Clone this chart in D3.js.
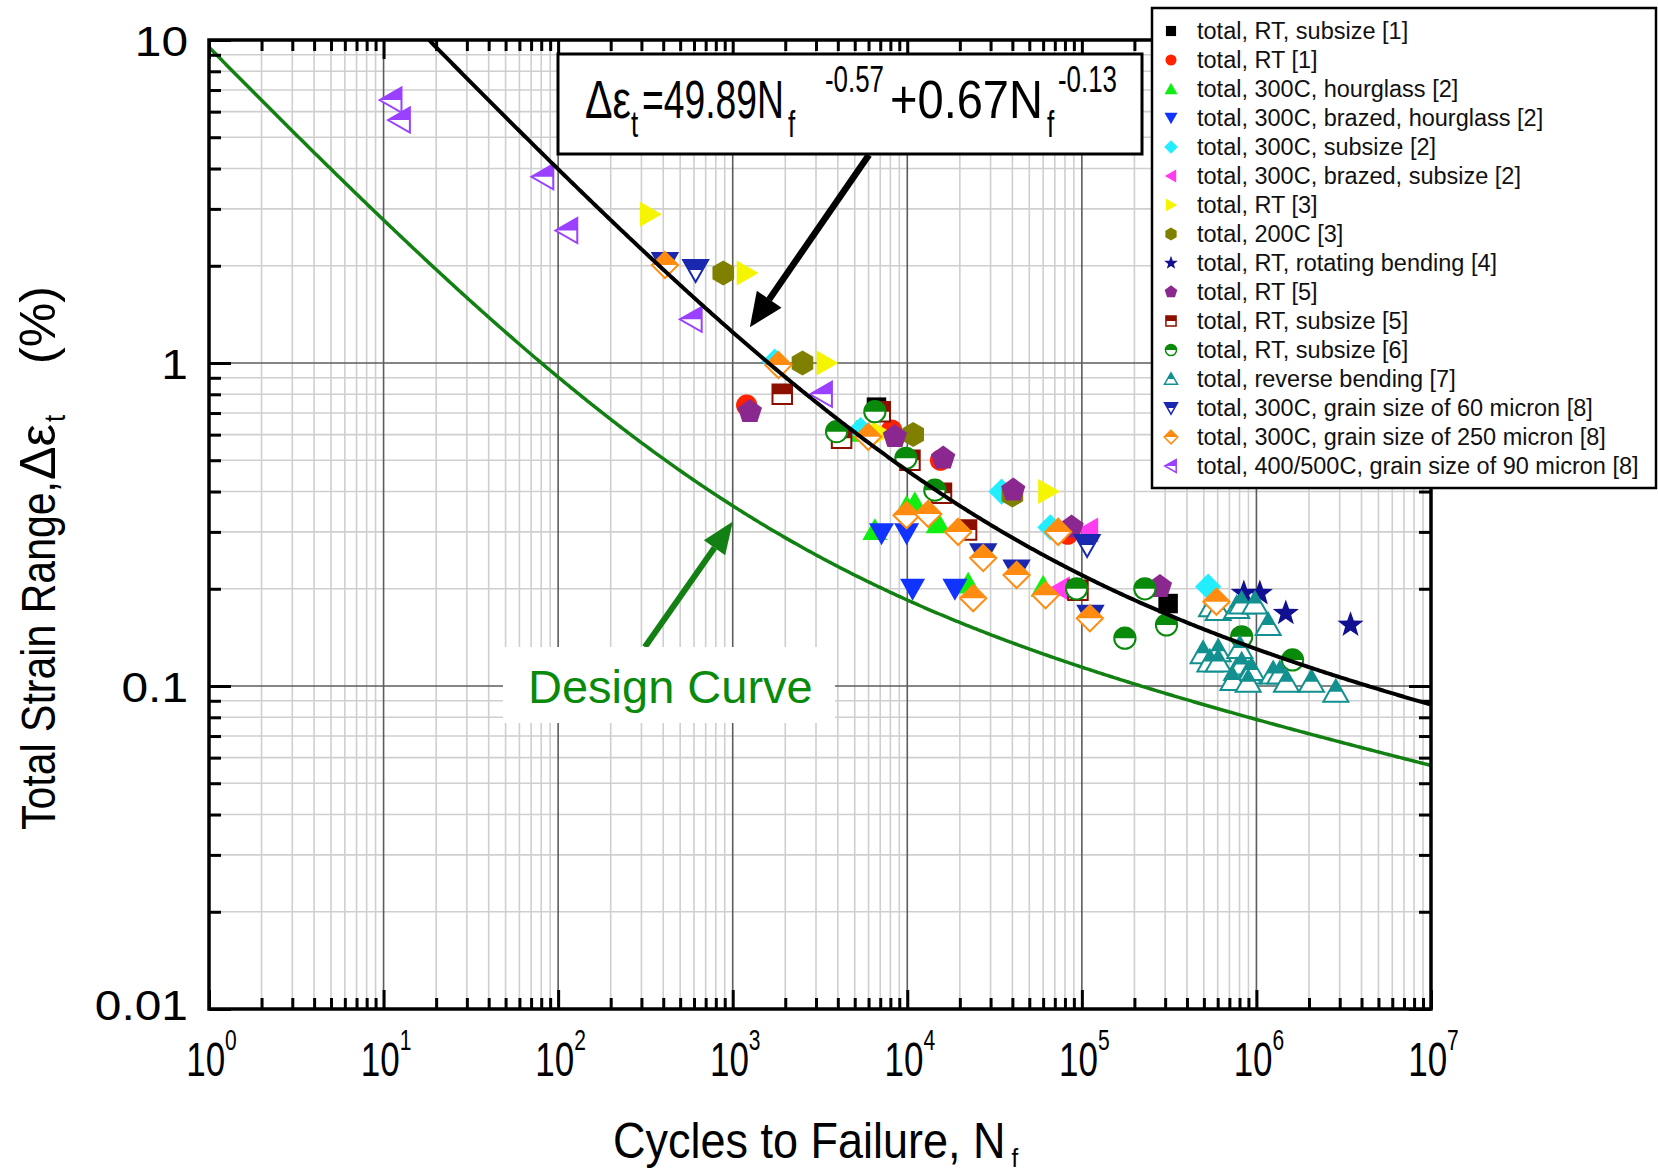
<!DOCTYPE html>
<html>
<head>
<meta charset="utf-8">
<script src="https://cdn.jsdelivr.net/npm/d3@7"></script>
<style>
  body { margin: 0; background: #fff; }
  svg { display: block; }
  text { font-family: "Liberation Sans", Arial, sans-serif; }
</style>
</head>
<body>
<svg id="chart" width="1658" height="1173"></svg>
<script>
// ---- Fatigue data: [cycles to failure, total strain range %] ----
const rtSubsize1 = [[6660, 0.73], [312000, 0.18]];
const rt1 = [[1202, 0.74], [8130, 0.62], [15500, 0.50], [83000, 0.295]];
const hourglass300C2 = [[5130, 0.613], [6520, 0.304], [9910, 0.359], [11040, 0.368], [15030, 0.319], [22320, 0.2075], [60000, 0.203]];
const brazedHourglass300C2 = [[7120, 0.297], [9910, 0.297], [10720, 0.20], [18740, 0.20]];
const subsize300C2 = [[1740, 1.01], [5400, 0.62], [34670, 0.40], [66000, 0.31], [528600, 0.203]];
const brazedSubsize300C2 = [[74800, 0.20], [108700, 0.304]];
const rt3 = [[336, 2.89], [1202, 1.90], [3451, 1.0], [7120, 0.605], [64120, 0.40]];
const t200C3 = [[883, 1.90], [2510, 1.0], [10810, 0.601], [40000, 0.39]];
const rotatingBending4 = [[847000, 0.1936], [1046000, 0.1936], [1473000, 0.168], [3459000, 0.1545]];
const rt5 = [[1254, 0.707], [8490, 0.591], [16060, 0.507], [40450, 0.404], [87300, 0.31], [280000, 0.203]];
const rtSubsize5 = [[1922, 0.80], [4204, 0.585], [7000, 0.707], [10360, 0.50], [15700, 0.395], [21860, 0.304], [95000, 0.198]];
const rtSubsize6 = [[3936, 0.613], [6520, 0.707], [9820, 0.507], [14390, 0.404], [93300, 0.20], [176400, 0.1406], [229600, 0.20], [305500, 0.1545], [823000, 0.142], [1610000, 0.1204]];
const reverseBending7 = [[553000, 0.1765], [604000, 0.1718], [771000, 0.1745], [823000, 0.180], [980000, 0.180], [1167000, 0.1545],
  [495000, 0.1263], [604000, 0.128], [541000, 0.119], [604000, 0.119], [803000, 0.131], [771000, 0.112], [823000, 0.1165],
  [897000, 0.1094], [938000, 0.112], [734000, 0.1044], [897000, 0.103], [1247000, 0.1094], [1362000, 0.1094],
  [1487000, 0.103], [2066000, 0.103], [2850000, 0.096]];
const grain60at300C8 = [[409, 2.04], [613, 1.94], [27220, 0.256], [42270, 0.228], [107200, 0.273], [112000, 0.165]];
const grain250at300C8 = [[409, 2.01], [1828, 0.986], [5970, 0.591], [9910, 0.338], [13180, 0.341], [19570, 0.30], [23850, 0.187],
  [27220, 0.249], [42270, 0.2207], [61940, 0.191], [73150, 0.30], [111100, 0.162], [590000, 0.1824]];
const grain90at400C8 = [[11.1, 6.52], [12.4, 5.65], [82.2, 3.77], [112.8, 2.57], [582, 1.365], [3243, 0.80]];

const seriesNames = [
  "total, RT, subsize [1]", "total, RT [1]", "total, 300C, hourglass [2]", "total, 300C, brazed, hourglass [2]",
  "total, 300C, subsize [2]", "total, 300C, brazed, subsize [2]", "total, RT [3]", "total, 200C [3]",
  "total, RT, rotating bending [4]", "total, RT [5]", "total, RT, subsize [5]", "total, RT, subsize [6]",
  "total, reverse bending [7]", "total, 300C, grain size of 60 micron [8]", "total, 300C, grain size of 250 micron [8]",
  "total, 400/500C, grain size of 90 micron [8]"
];
const seriesData = [rtSubsize1, rt1, hourglass300C2, brazedHourglass300C2, subsize300C2, brazedSubsize300C2, rt3, t200C3,
  rotatingBending4, rt5, rtSubsize5, rtSubsize6, reverseBending7, grain60at300C8, grain250at300C8, grain90at400C8];

// Fit: Δε_t = A·N^a + B·N^b ; design curve uses a factor of 20 on life
const fitA = 49.89, fitExpA = -0.57, fitB = 0.67, fitExpB = -0.13, lifeFactor = 20;

// Axis ticks
const xDecades = [1, 10, 100, 1e3, 1e4, 1e5, 1e6, 1e7];
const xExponents = ["0", "1", "2", "3", "4", "5", "6", "7"];
const yDecades = [0.01, 0.1, 1, 10];
const yTickLabels = ["0.01", "0.1", "1", "10"];

// ---- Marker styles ----
const markerStyle = [
  { shape: "square", color: "#000000", half: false },
  { shape: "circle", color: "#ff2200", half: false },
  { shape: "triUp", color: "#11ee11", half: false },
  { shape: "triDown", color: "#1133ff", half: false },
  { shape: "diamond", color: "#22eeff", half: false },
  { shape: "triLeft", color: "#ff3cf0", half: false },
  { shape: "triRight", color: "#f5f500", half: false },
  { shape: "hexagon", color: "#808000", half: false },
  { shape: "star", color: "#101090", half: false },
  { shape: "pentagon", color: "#8b2890", half: false },
  { shape: "square", color: "#8b1000", half: true },
  { shape: "circle", color: "#0a8a0a", half: true },
  { shape: "triUp", color: "#129090", half: true },
  { shape: "triDown", color: "#1a28b0", half: true },
  { shape: "diamond", color: "#ff8c10", half: true },
  { shape: "triLeft", color: "#9a40ff", half: true }
];

const plot = { left: 209, right: 1431, top: 40, bottom: 1009 };

const svg = d3.select("#chart");
const x = d3.scaleLog().domain([1, 1e7]).range([plot.left, plot.right]);
const y = d3.scaleLog().domain([0.01, 10]).range([plot.bottom, plot.top]);

const defs = svg.append("defs");
defs.append("clipPath").attr("id", "plotClip")
  .append("rect").attr("x", plot.left).attr("y", plot.top)
  .attr("width", plot.right - plot.left).attr("height", plot.bottom - plot.top);
defs.append("clipPath").attr("id", "topHalf")
  .append("rect").attr("x", -40).attr("y", -40).attr("width", 80).attr("height", 40);

// ---- Grid ----
const minorX = [], minorY = [];
xDecades.slice(0, -1).forEach(d => { for (let k = 2; k <= 9; k++) minorX.push(d * k); });
yDecades.slice(0, -1).forEach(d => { for (let k = 2; k <= 9; k++) minorY.push(d * k); });

const grid = svg.append("g");
grid.selectAll(".gxm").data(minorX).join("line")
  .attr("x1", d => x(d)).attr("x2", d => x(d)).attr("y1", plot.top).attr("y2", plot.bottom)
  .attr("stroke", "#cfcfcf").attr("stroke-width", 1.6);
grid.selectAll(".gym").data(minorY).join("line")
  .attr("y1", d => y(d)).attr("y2", d => y(d)).attr("x1", plot.left).attr("x2", plot.right)
  .attr("stroke", "#cfcfcf").attr("stroke-width", 1.6);
grid.selectAll(".gxM").data(xDecades.slice(1, -1)).join("line")
  .attr("x1", d => x(d)).attr("x2", d => x(d)).attr("y1", plot.top).attr("y2", plot.bottom)
  .attr("stroke", "#5c5c5c").attr("stroke-width", 1.6);
grid.selectAll(".gyM").data(yDecades.slice(1, -1)).join("line")
  .attr("y1", d => y(d)).attr("y2", d => y(d)).attr("x1", plot.left).attr("x2", plot.right)
  .attr("stroke", "#5c5c5c").attr("stroke-width", 1.6);

// ---- Markers ----
function shapePath(shape, s) {
  const line = d3.line().curve(d3.curveLinearClosed);
  const poly = (n, r, rot) => d3.range(n).map(i => {
    const a = rot + i * 2 * Math.PI / n;
    return [r * Math.cos(a), r * Math.sin(a)];
  });
  switch (shape) {
    case "square": return line([[-s * 0.78, -s * 0.78], [s * 0.78, -s * 0.78], [s * 0.78, s * 0.78], [-s * 0.78, s * 0.78]]);
    case "circle": { const p = d3.path(); const r = s * 0.85; p.arc(0, 0, r, 0, 2 * Math.PI); p.closePath(); return p.toString(); }
    case "triUp": return line([[0, -s * 0.95], [s, s * 0.8], [-s, s * 0.8]]);
    case "triDown": return line([[-s, -s * 0.8], [s, -s * 0.8], [0, s * 0.95]]);
    case "triLeft": return line([[-s * 0.95, 0], [s * 0.8, -s], [s * 0.8, s]]);
    case "triRight": return line([[s * 0.95, 0], [-s * 0.8, -s], [-s * 0.8, s]]);
    case "diamond": return line([[0, -s * 1.05], [s * 1.05, 0], [0, s * 1.05], [-s * 1.05, 0]]);
    case "hexagon": return line(poly(6, s, -Math.PI / 2));
    case "pentagon": return line(poly(5, s * 1.02, -Math.PI / 2));
    case "star": return line(d3.range(10).map(i => {
      const a = -Math.PI / 2 + i * Math.PI / 5, r = i % 2 ? s * 0.45 : s * 1.1;
      return [r * Math.cos(a), r * Math.sin(a)];
    }));
  }
}

function drawMarker(g, style, s, sw) {
  const d = shapePath(style.shape, s);
  if (!style.half) {
    g.append("path").attr("d", d).attr("fill", style.color);
  } else {
    g.append("path").attr("d", d).attr("fill", "#fff");
    g.append("path").attr("d", d).attr("fill", style.color).attr("clip-path", "url(#topHalf)");
    g.append("path").attr("d", d).attr("fill", "none").attr("stroke", style.color).attr("stroke-width", sw);
  }
}

const markers = svg.append("g").attr("clip-path", "url(#plotClip)");
seriesData.forEach((pts, i) => {
  const grp = markers.append("g");
  pts.forEach(p => {
    const m = grp.append("g").attr("transform", `translate(${x(p[0])},${y(p[1])})`);
    drawMarker(m, markerStyle[i], 12.5, 2);
  });
});

// ---- Fit curve and design curve ----
const fitStrain = n => fitA * Math.pow(n, fitExpA) + fitB * Math.pow(n, fitExpB);
const sampleN = d3.range(0, 7.0001, 0.01).map(e => Math.pow(10, e));
const curveLine = d3.line().x(d => x(d[0])).y(d => y(d[1]));
const curves = svg.append("g").attr("clip-path", "url(#plotClip)").attr("fill", "none");
curves.append("path").attr("d", curveLine(sampleN.map(n => [n, fitStrain(lifeFactor * n)])))
  .attr("stroke", "#128012").attr("stroke-width", 3.5);
curves.append("path").attr("d", curveLine(sampleN.map(n => [n, fitStrain(n)])))
  .attr("stroke", "#000").attr("stroke-width", 4);

// ---- Axes (ticks point inward) ----
function axisSet(axisFn, values, size, transform) {
  const a = axisFn.tickValues(values).tickSizeInner(-size).tickSizeOuter(0).tickFormat(() => "");
  const g = svg.append("g").attr("transform", transform).call(a);
  g.select(".domain").remove();
  g.selectAll(".tick line").attr("stroke", "#000").attr("stroke-width", 3);
  return g;
}
const xBottom = axisSet(d3.axisBottom(x), xDecades, 19, `translate(0,${plot.bottom})`);
axisSet(d3.axisBottom(x), minorX, 11, `translate(0,${plot.bottom})`);
axisSet(d3.axisTop(x), xDecades, 19, `translate(0,${plot.top})`);
axisSet(d3.axisTop(x), minorX, 11, `translate(0,${plot.top})`);
const yLeft = axisSet(d3.axisLeft(y), yDecades, 22, `translate(${plot.left},0)`);
axisSet(d3.axisLeft(y), minorY, 12, `translate(${plot.left},0)`);
axisSet(d3.axisRight(y), yDecades, 22, `translate(${plot.right},0)`);
axisSet(d3.axisRight(y), minorY, 12, `translate(${plot.right},0)`);

// bottom labels: 10 with exponent
xBottom.selectAll(".tick text").each(function (d, i) {
  const t = d3.select(this).attr("y", null).attr("dy", null)
    .attr("transform", "translate(2,67) scale(1,1.4)")
    .attr("fill", "#000").attr("font-size", 35).attr("text-anchor", "middle");
  t.append("tspan").text("10");
  t.append("tspan").attr("font-size", 21).attr("dy", -18.5).text(xExponents[i]);
});
yLeft.selectAll(".tick text").each(function (d, i) {
  const off = i === 0 ? 10 : 15;
  d3.select(this).attr("x", null).attr("dy", null)
    .attr("transform", `translate(-21,${off}) scale(1.14,1)`)
    .attr("fill", "#000").attr("font-size", 42).attr("text-anchor", "end")
    .text(yTickLabels[i]);
});

// frame
svg.append("rect").attr("x", plot.left).attr("y", plot.top)
  .attr("width", plot.right - plot.left).attr("height", plot.bottom - plot.top)
  .attr("fill", "none").attr("stroke", "#000").attr("stroke-width", 3.5);

// ---- Axis titles ----
const xt = svg.append("text").attr("transform", "translate(613,1158) scale(1,1.09)").attr("font-size", 45).attr("fill", "#000");
xt.append("tspan").text("Cycles to Failure, N");
xt.append("tspan").attr("font-size", 24).attr("dx", 6).attr("dy", 8).text("f");

// vertical title, laid out along its own baseline (u = distance from the bottom end)
const ytG = svg.append("g").attr("transform", "translate(55,830) rotate(-90)");
function ytPiece(u, txt, size, dy, len) {
  const t = ytG.append("text").attr("transform", `translate(${u},${dy}) scale(1,1.15)`)
    .attr("font-size", size).attr("fill", "#000").text(txt);
  if (len) t.attr("textLength", len).attr("lengthAdjust", "spacingAndGlyphs");
}
ytPiece(0, "Total Strain Range,", 41, 0, 349);
ytPiece(350, "Δε", 43, 0, 56);
ytPiece(408, "t", 26, 10, 0);
ytPiece(466, "(%)", 44, 0, 78);

// ---- Arrows ----
function arrow(from, to, color, width, headLen, headHalf) {
  const x0 = x(from[0]), y0 = y(from[1]), x1 = x(to[0]), y1 = y(to[1]);
  const ang = Math.atan2(y1 - y0, x1 - x0);
  const bx = x1 - headLen * Math.cos(ang), by = y1 - headLen * Math.sin(ang);
  svg.append("line").attr("x1", x0).attr("y1", y0).attr("x2", bx).attr("y2", by)
    .attr("stroke", color).attr("stroke-width", width);
  const nx = -Math.sin(ang), ny = Math.cos(ang);
  svg.append("path").attr("fill", color)
    .attr("d", d3.line()([[x1, y1], [bx + nx * headHalf, by + ny * headHalf], [bx - nx * headHalf, by - ny * headHalf]]));
}
arrow([6030, 4.41], [1254, 1.29], "#000", 6.5, 34, 15);
arrow([314, 0.132], [1002, 0.323], "#128012", 6, 32, 13);

// Design curve label
svg.append("rect").attr("x", 503).attr("y", 647).attr("width", 332).attr("height", 76).attr("fill", "#fff");
svg.append("text").attr("x", 528).attr("y", 703).attr("font-size", 47).attr("fill", "#0a8a0a").text("Design Curve");

// Equation box
svg.append("rect").attr("x", 558).attr("y", 54).attr("width", 584).attr("height", 100)
  .attr("fill", "#fff").attr("stroke", "#000").attr("stroke-width", 3);
function eqPiece(px, dy, txt, size, len) {
  const t = svg.append("text").attr("transform", `translate(${px},${118 + dy}) scale(1,1.42)`)
    .attr("font-size", size).attr("fill", "#000").text(txt);
  if (len) t.attr("textLength", len).attr("lengthAdjust", "spacingAndGlyphs");
}
eqPiece(585, 0, "Δε", 38, 46);
eqPiece(631, 19, "t", 26, 0);
eqPiece(642, 0, "=49.89N", 38, 142);
eqPiece(788, 19, "f", 26, 0);
eqPiece(825, -26, "-0.57", 26, 59);
eqPiece(890, 0, "+0.67N", 38, 153);
eqPiece(1047, 19, "f", 26, 0);
eqPiece(1058, -26, "-0.13", 26, 59);

// ---- Legend ----
const legend = svg.append("g");
legend.append("rect").attr("x", 1152).attr("y", 8).attr("width", 504).attr("height", 480)
  .attr("fill", "#fff").attr("stroke", "#000").attr("stroke-width", 2.5);
seriesNames.forEach((name, i) => {
  const cy = 31 + i * 29;
  const m = legend.append("g").attr("transform", `translate(1171,${cy})`);
  drawMarker(m, markerStyle[i], 6.5, 1.5);
  legend.append("text").attr("x", 1197).attr("y", cy + 8).attr("font-size", 23.5).attr("fill", "#111").text(name);
});
</script>
</body>
</html>
